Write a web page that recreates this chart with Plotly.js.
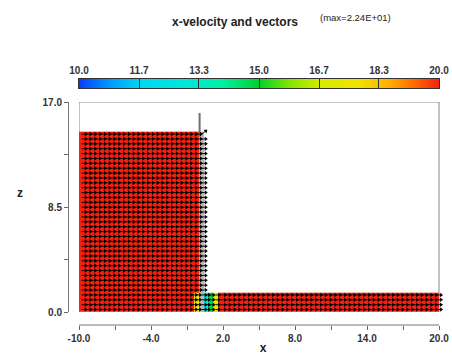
<!DOCTYPE html>
<html><head><meta charset="utf-8">
<script src="https://cdn.plot.ly/plotly-3.0.1.min.js"></script>
<style>html,body{margin:0;padding:0;background:#fff}#chart{width:452px;height:358px}</style>
</head><body><div id="chart"></div>
<script>
// ---------------- values ----------------
const xTickVals = [-10, -7, -4, -1, 2, 5, 8, 11, 14, 17, 20];
const xTickText = ['-10.0', '', '-4.0', '', '2.0', '', '8.0', '', '14.0', '', '20.0'];
const zTickVals = [0, 4.25, 8.5, 12.75, 17];
const zTickText = ['0.0', '', '8.5', '', '17.0'];
const cbTickVals = [10, 11.667, 13.333, 15, 16.667, 18.333, 20];
const cbTickText = ['10.0', '11.7', '13.3', '15.0', '16.7', '18.3', '20.0'];

// wetted geometry (dam-break through a gate)
const reservoirLeft = -10;
const reservoirCols = 25;          // cells of 0.4 between -10 and 0
const reservoirRows = 37;          // rows up to the free surface
const reservoirTop = 14.6;         // free surface height in the reservoir
const channelRows = 4;             // rows in the downstream channel
const channelStart = 1.6;
const channelCols = 46;            // cells of 0.4 between 1.6 and 20
const jetEdges = [0, 0.45, 0.8, 1.15, 1.6];   // columns just downstream of the gate
const gateX = 0.05;
const gateTop = 16.1;

// x-velocity values
const uReservoir = 21.8;
const uReservoirLastLow = 17.8;    // last reservoir column, near the bed
const jetLowU = [null, 13.0, 14.8, 17.5];   // first jet column is drawn grey
const uChannel = 22.4;
const uGap = 20.5;                 // vectors in the grey gap column
const wGapTop = 15.0;              // upward component at the top of the gap

// ---------------- build grid from the values ----------------
const dz = reservoirTop / reservoirRows;
const zEdges = [];
for (let j = 0; j <= reservoirRows; j++) zEdges.push(+(j * dz).toFixed(4));
const xEdges = [];
for (let i = 0; i <= reservoirCols; i++) xEdges.push(+(reservoirLeft + 0.4 * i).toFixed(3));
for (let k = 1; k < jetEdges.length; k++) xEdges.push(jetEdges[k]);
for (let i = 1; i <= channelCols; i++) xEdges.push(+(channelStart + 0.4 * i).toFixed(3));
const nCols = xEdges.length - 1;
const gapCol = reservoirCols;      // index of grey column

const zMain = [], zGray = [];
const vx = [], vz = [], vu = [], vw = [];
for (let j = 0; j < reservoirRows; j++) {
  const rowM = [], rowG = [];
  for (let i = 0; i < nCols; i++) {
    let val = null, gray = null, u = null, w = 0;
    if (i < reservoirCols) {
      val = (i === reservoirCols - 1 && j < channelRows) ? uReservoirLastLow : uReservoir;
      u = val;
    } else if (i === gapCol) {
      gray = 1; u = uGap;
      if (j === reservoirRows - 1) w = wGapTop;
    } else if (i < gapCol + jetEdges.length - 1) {
      if (j < channelRows) { val = jetLowU[i - gapCol]; u = val; }
    } else {
      if (j < channelRows) { val = uChannel; u = val; }
    }
    rowM.push(val); rowG.push(gray);
    if (u !== null) {
      vx.push((xEdges[i] + xEdges[i + 1]) / 2);
      vz.push((zEdges[j] + zEdges[j + 1]) / 2);
      vu.push(u); vw.push(w);
    }
  }
  zMain.push(rowM); zGray.push(rowG);
}

// arrows
const scale = 0.36 / uReservoir;
const sx = [], sy = [], hx = [], hy = [], ha = [];
for (let k = 0; k < vx.length; k++) {
  const x1 = vx[k] + vu[k] * scale, y1 = vz[k] + vw[k] * scale;
  sx.push(vx[k], x1, null); sy.push(vz[k], y1, null);
  hx.push(x1); hy.push(y1);
  ha.push(Math.atan2(vu[k] * 12, vw[k] * 12.35) * 180 / Math.PI);
}

const jet = [
  [0.00, '#0a3cff'], [0.08, '#0096ff'], [0.17, '#00d8f0'], [0.30, '#00e8d8'],
  [0.40, '#00f0a0'], [0.50, '#00d22a'], [0.58, '#7ee600'], [0.67, '#d8ec00'],
  [0.78, '#f2e000'], [0.86, '#ffb000'], [0.93, '#ff6a00'], [1.00, '#f52010']
];

const traces = [
  {type: 'heatmap', x: xEdges, y: zEdges, z: zMain, colorscale: jet, zmin: 10, zmax: 20,
   showscale: false, hoverinfo: 'skip', xaxis: 'x', yaxis: 'y'},
  {type: 'heatmap', x: xEdges, y: zEdges, z: zGray, colorscale: [[0, '#b8b8b8'], [1, '#b8b8b8']],
   zmin: 0, zmax: 1, showscale: false, hoverinfo: 'skip', xaxis: 'x', yaxis: 'y'},
  {type: 'scatter', mode: 'lines', x: [gateX, gateX], y: [reservoirTop - 0.4, gateTop],
   line: {color: '#707070', width: 2}, hoverinfo: 'skip', xaxis: 'x', yaxis: 'y'},
  {type: 'scatter', mode: 'lines', x: sx, y: sy, line: {color: '#111', width: 1},
   hoverinfo: 'skip', xaxis: 'x', yaxis: 'y'},
  {type: 'scatter', mode: 'markers', x: hx, y: hy,
   marker: {symbol: 'triangle-up', size: 4, color: '#000', angle: ha, line: {width: 0}},
   hoverinfo: 'skip', xaxis: 'x', yaxis: 'y'},
  // colour legend bar
  {type: 'heatmap', x: cbTickVals, y: [0, 1], z: [cbTickVals, cbTickVals], zsmooth: 'best',
   colorscale: jet, zmin: 10, zmax: 20, showscale: false, hoverinfo: 'skip', xaxis: 'x2', yaxis: 'y2'}
];

const W = 452, H = 358;
const boldTicks = a => a.map(t => t ? '<b>' + t + '</b>' : '');
const layout = {
  width: W, height: H, margin: {l: 0, r: 0, t: 0, b: 0},
  paper_bgcolor: '#fff', plot_bgcolor: 'rgba(0,0,0,0)', showlegend: false,
  font: {family: '"Liberation Sans", Arial, sans-serif', color: '#222', size: 10},
  title: {text: '<b>x-velocity and vectors</b>', x: 235 / W, xanchor: 'center',
          y: 1 - 22 / H, yanchor: 'middle', font: {size: 12, color: '#222'}},
  xaxis: {domain: [79 / W, (79 + 30.7 * 12) / W], range: [-10, 20.7], anchor: 'free',
          position: (H - 325) / H, showline: false, showgrid: false, zeroline: false,
          ticks: 'outside', ticklen: 4, tickcolor: '#666', tickvals: xTickVals,
          ticktext: boldTicks(xTickText), tickfont: {size: 10, color: '#333'},
          title: {text: '<b>x</b>', font: {size: 12, color: '#222'}, standoff: 0}},
  yaxis: {domain: [(H - 312) / H, (H - 102) / H], range: [0, 17], anchor: 'free',
          position: 68 / W, showline: true, linecolor: '#777', linewidth: 1,
          showgrid: false, zeroline: false, ticks: 'outside', ticklen: 4, tickcolor: '#666',
          tickvals: zTickVals, ticktext: boldTicks(zTickText), tickfont: {size: 10, color: '#333'}},
  xaxis2: {domain: [79 / W, 439 / W], anchor: 'y2', side: 'top', range: [10, 20],
           tickvals: cbTickVals, ticktext: boldTicks(cbTickText), ticks: 'inside', ticklen: 9,
           tickcolor: '#333', showline: true, mirror: true, linecolor: '#333', linewidth: 1,
           showgrid: false, zeroline: false, tickfont: {size: 10, color: '#333'}},
  yaxis2: {domain: [(H - 88) / H, (H - 79) / H], anchor: 'x2', range: [0, 1],
           showticklabels: false, ticks: '', showline: true, mirror: true, linecolor: '#333',
           showgrid: false, zeroline: false},
  shapes: [
    {type: 'rect', xref: 'x', yref: 'y', x0: -10, x1: 20, y0: 0, y1: 17,
     line: {color: '#888', width: 1}, layer: 'below'},
    {type: 'line', xref: 'x', yref: 'paper', x0: -10, x1: 20, y0: (H - 325) / H, y1: (H - 325) / H,
     line: {color: '#777', width: 1}}
  ],
  annotations: [
    {text: '(max=2.24E+01)', xref: 'paper', yref: 'paper', x: 393 / W, y: 1 - 10 / H,
     showarrow: false, font: {size: 9.5, color: '#222'}},
    {text: '<b>z</b>', xref: 'paper', yref: 'paper', x: 15 / W, y: 1 - 193 / H,
     showarrow: false, font: {size: 12, color: '#222'}}
  ]
};

Plotly.newPlot('chart', traces, layout, {displayModeBar: false, staticPlot: true});
</script>
</body></html>
